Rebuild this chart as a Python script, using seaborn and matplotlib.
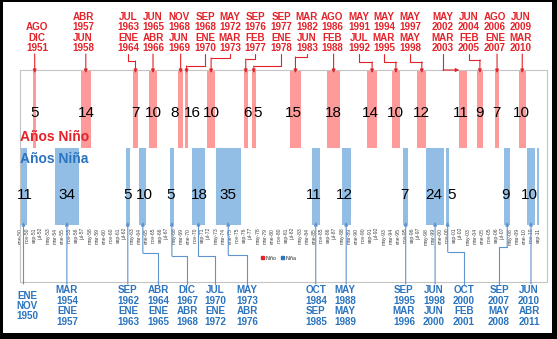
import numpy as np
import pandas as pd
import matplotlib
matplotlib.use("Agg")
import matplotlib.pyplot as plt
from matplotlib.lines import Line2D
from matplotlib.patches import Rectangle, Patch, FancyArrowPatch
import seaborn as sns

# ---------------- data ----------------
MESES = ["ene", "feb", "mar", "abr", "may", "jun", "jul", "ago", "sep", "oct", "nov", "dic"]
primer_mes = "ene-1950"
ultimo_mes = "oct-2011"
paso_ticks = 10

nino_inicio = ["ago-1951", "abr-1957", "jul-1963", "jun-1965", "nov-1968", "sep-1969",
               "may-1972", "sep-1976", "sep-1977", "mar-1982", "ago-1986", "may-1991",
               "may-1994", "may-1997", "may-2002", "jun-2004", "ago-2006", "jun-2009"]
nino_fin = ["dic-1951", "jun-1958", "ene-1964", "abr-1966", "jun-1969", "ene-1970",
            "mar-1973", "feb-1977", "ene-1978", "jun-1983", "feb-1988", "jul-1992",
            "mar-1995", "may-1998", "mar-2003", "feb-2005", "ene-2007", "mar-2010"]
nino_meses = [5, 14, 7, 10, 8, 16, 10, 6, 5, 15, 18, 14, 10, 12, 11, 9, 7, 10]
nino_etiquetas = ["AGO\nDIC\n1951", "ABR\n1957\nJUN\n1958", "JUL\n1963\nENE\n1964",
                  "JUN\n1965\nABR\n1966", "NOV\n1968\nJUN\n1969", "SEP\n1968\nENE\n1970",
                  "MAY\n1972\nMAR\n1973", "SEP\n1976\nFEB\n1977", "SEP\n1977\nENE\n1978",
                  "MAR\n1982\nJUN\n1983", "AGO\n1986\nFEB\n1988", "MAY\n1991\nJUL\n1992",
                  "MAY\n1994\nMAR\n1995", "MAY\n1997\nMAY\n1998", "MAY\n2002\nMAR\n2003",
                  "JUN\n2004\nFEB\n2005", "AGO\n2006\nENE\n2007", "JUN\n2009\nMAR\n2010"]

nina_inicio = ["ene-1950", "mar-1954", "sep-1962", "abr-1964", "dic-1967", "jul-1970",
               "may-1973", "oct-1984", "may-1988", "sep-1995", "jun-1998", "oct-2000",
               "sep-2007", "jun-2010", "ago-2011"]
nina_fin = ["nov-1950", "ene-1957", "ene-1963", "ene-1965", "abr-1968", "ene-1972",
            "abr-1976", "sep-1985", "may-1989", "mar-1996", "jun-2000", "feb-2001",
            "may-2008", "abr-2011", "oct-2011"]
nina_meses = [11, 34, 5, 10, 5, 18, 35, 11, 12, 7, 24, 5, 9, 10]
nina_etiquetas = ["ENE\nNOV\n1950", "MAR\n1954\nENE\n1957", "SEP\n1962\nENE\n1963",
                  "ABR\n1964\nENE\n1965", "DIC\n1967\nABR\n1968", "JUL\n1970\nENE\n1972",
                  "MAY\n1973\nABR\n1976", "OCT\n1984\nSEP\n1985", "MAY\n1988\nMAY\n1989",
                  "SEP\n1995\nMAR\n1996", "JUN\n1998\nJUN\n2000", "OCT\n2000\nFEB\n2001",
                  "SEP\n2007\nMAY\n2008", "JUN\n2010\nABR\n2011"]

# ---------------- layout (pixels, y from top) ----------------
W, H = 557, 339
nino_lbl_x = [37, 83, 128, 153, 179, 205, 230, 255, 281, 307, 332, 359, 384, 410, 443, 469, 495, 521]
nino_elbow = [None, None, 61, None, None, 66, 58, 59, 66, 57, None, 62, 62, 62, "h", 60, None, None]
nino_num_x = [35, 86, 135, 153, 175, 192, 211, 247, 258, 293, 333, 370, 395, 421, 461, 479, 496, 521]
nina_lbl_x = [27, 67, 128, 158, 187, 215, 247, 316, 345, 404, 434, 464, 499, 529]
nina_elbow = [None, None, None, 253, 256, 256, 255, None, None, None, None, 252, 247, None]
nina_num_x = [25, 67, 128, 144, 171, 199, 228, 314, 344, 404, 434, 452, 505, 529]

C_NINO_BAR = "#FF9A9A"
C_NINA_BAR = "#92BEE6"
C_RED = "#E3232A"
C_BLUE = "#2B74BF"
C_BLUE_LINE = "#5F93CD"


def idx(s):
    m, y = s.split("-")
    return (int(y) - 1950) * 12 + MESES.index(m)


n0, n1 = idx(primer_mes), idx(ultimo_mes)
meses = np.arange(n0, n1 + 1)
nino_val = np.zeros(len(meses))
nina_val = np.zeros(len(meses))
for a, b in zip(nino_inicio, nino_fin):
    nino_val[(meses >= idx(a)) & (meses <= idx(b))] = 1
for a, b in zip(nina_inicio, nina_fin):
    nina_val[(meses >= idx(a)) & (meses <= idx(b))] = -1

df_nino = pd.DataFrame({"mes": meses, "valor": nino_val})
df_nino = df_nino[df_nino.valor != 0]
df_nina = pd.DataFrame({"mes": meses, "valor": nina_val})
df_nina = df_nina[df_nina.valor != 0]

# ---------------- figure ----------------
sns.set_style("white")
plt.rcParams["font.family"] = ["Liberation Sans", "DejaVu Sans"]

fig = plt.figure(figsize=(W / 100, H / 100), dpi=100)
fig.patch.set_facecolor("white")
xmin, xmax = -0.5, 743
ax_l, ax_top, ax_bot = 19.65, 70, 225
ax_w = 0.7 * (xmax - xmin)
ax = fig.add_axes([ax_l / W, 1 - ax_bot / H, ax_w / W, (ax_bot - ax_top) / H])

sns.barplot(data=df_nino, x="mes", y="valor", native_scale=True, color=C_NINO_BAR,
            width=1, linewidth=0, errorbar=None, saturation=1, ax=ax)
sns.barplot(data=df_nina, x="mes", y="valor", native_scale=True, color=C_NINA_BAR,
            width=1, linewidth=0, errorbar=None, saturation=1, ax=ax)
ax.set_xlim(xmin, xmax)
ax.set_ylim(-1, 1)
ax.set_yticks([])
ax.set_xlabel("")
ax.set_ylabel("")
tick_pos = np.arange(n0, n1 + 1, paso_ticks)
ax.set_xticks(tick_pos)
ax.set_xticklabels([f"{MESES[t % 12]}-{(1950 + t // 12) % 100:02d}" for t in tick_pos],
                   rotation=90, fontsize=3.6, color="#404040")
ax.tick_params(axis="x", length=0, pad=2)
for s in ax.spines.values():
    s.set_visible(False)

legend = ax.legend(handles=[Patch(color=C_RED, label="Niño"), Patch(color=C_BLUE, label="Niña")],
                   loc="center", bbox_to_anchor=(279 / W, 1 - 258 / H), bbox_transform=fig.transFigure,
                   ncol=2, fontsize=3.8, frameon=False, handlelength=0.6, handleheight=0.6,
                   handletextpad=0.3, columnspacing=0.8, borderpad=0)


def F(x, y):
    return (x / W, 1 - y / H)


def bar_px(a, b):
    xc = (idx(a) + idx(b)) / 2
    return ax.transData.transform((xc, 0))[0]


def bar_left_px(a):
    return ax.transData.transform((idx(a) - 0.5, 0))[0]


def path(points, color, lw=0.8):
    pts = [F(*p) for p in points]
    if len(pts) > 2:
        xs, ys = zip(*pts[:-1])
        fig.add_artist(Line2D(xs, ys, transform=fig.transFigure, color=color, lw=lw))
    arr = FancyArrowPatch(pts[-2], pts[-1], transform=fig.transFigure, arrowstyle="-|>",
                          mutation_scale=5, lw=lw, color=color, shrinkA=0, shrinkB=0)
    fig.add_artist(arr)


# frame
fig.add_artist(Rectangle(F(20, 282), 527 / W, 212 / H, transform=fig.transFigure,
                         fill=False, edgecolor="#C4C4C4", lw=0.8))

# Niño annotations
for i, (a, b) in enumerate(zip(nino_inicio, nino_fin)):
    bx = bar_px(a, b)
    lx = nino_lbl_x[i]
    e = nino_elbow[i]
    fig.text(lx / W, 1 - 53 / H, nino_etiquetas[i], ha="center", va="bottom", color=C_RED,
             fontsize=7.1, fontweight="bold", linespacing=1.05)
    if e is None:
        path([(bx, 54), (bx, 73)], C_RED)
    elif e == "h":
        path([(lx, 54), (lx, 70), (bar_left_px(a), 70)], C_RED)
    else:
        path([(lx, 54), (lx, e), (bx, e), (bx, 73)], C_RED)
    fig.text(nino_num_x[i] / W, 1 - 113 / H, str(nino_meses[i]), ha="center", va="center",
             fontsize=11, color="black")

# Niña annotations
for i, lbl in enumerate(nina_etiquetas):
    a, b = nina_inicio[i], nina_fin[i]
    bx = bar_px(a, b)
    lx = nina_lbl_x[i]
    e = nina_elbow[i]
    fig.text(lx / W, 1 - 306 / H, lbl, ha="center", va="center", color=C_BLUE,
             fontsize=7.1, fontweight="bold", linespacing=1.05)
    if e is None:
        path([(bx, 284), (bx, 222)], C_BLUE_LINE)
    else:
        path([(lx, 284), (lx, e), (bx, e), (bx, 222)], C_BLUE_LINE)
    fig.text(nina_num_x[i] / W, 1 - 195 / H, str(nina_meses[i]), ha="center", va="center",
             fontsize=11, color="black")

fig.text(20 / W, 1 - 137 / H, "Años Niño", ha="left", va="center", color=C_RED,
         fontsize=10, fontweight="bold")
fig.text(20 / W, 1 - 159 / H, "Años Niña", ha="left", va="center", color=C_BLUE,
         fontsize=10, fontweight="bold")

# outer black border
for (x, y, w, h) in [(0, 0, 3, H), (552, 0, 5, H), (0, 0, W, 2), (0, 333, W, 6)]:
    fig.add_artist(Rectangle(F(x, y + h), w / W, h / H, transform=fig.transFigure,
                             facecolor="black", edgecolor="none"))

fig.savefig("out.png", dpi=100)
